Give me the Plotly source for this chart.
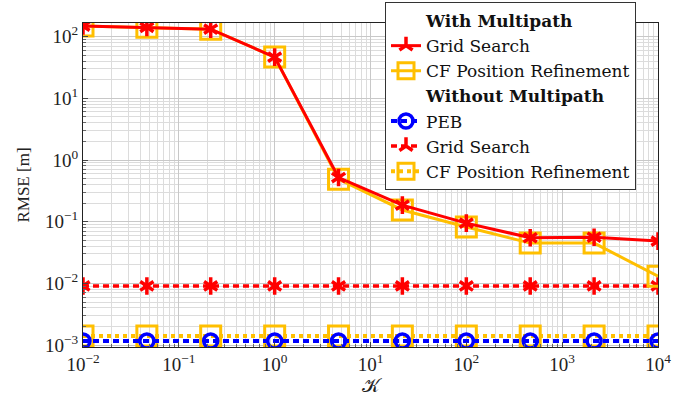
import plotly.graph_objects as go

kappa = [0.01, 0.0464, 0.215, 1.0, 4.64, 21.5, 100.0, 464.0, 2154.0, 10000.0]
gs_mp = [148, 141, 132, 46.5, 0.52, 0.186, 0.095, 0.055, 0.056, 0.0485]
cf_mp = [148, 141, 132, 46.5, 0.49, 0.155, 0.082, 0.045, 0.045, 0.0131]
peb = [0.00117] * 10
gs_nomp = [0.0091] * 10
cf_nomp = [0.00141] * 10

xticks = [0.01, 0.1, 1, 10, 100, 1000, 10000]
xticktext = ["10<sup>−2</sup>", "10<sup>−1</sup>", "10<sup>0</sup>", "10<sup>1</sup>",
             "10<sup>2</sup>", "10<sup>3</sup>", "10<sup>4</sup>"]
yticks = [0.001, 0.01, 0.1, 1, 10, 100]
yticktext = ["10<sup>−3</sup>", "10<sup>−2</sup>", "10<sup>−1</sup>", "10<sup>0</sup>",
             "10<sup>1</sup>", "10<sup>2</sup>"]

RED = "#ff0000"
ORANGE = "#ffbf00"
BLUE = "#0000ff"
FONT = "Liberation Serif"
LEGFONT = "DejaVu Serif"

fig = go.Figure()

# header entries
fig.add_trace(go.Scatter(x=[None], y=[None], mode="lines", line=dict(width=0, color="rgba(0,0,0,0)"),
                         name="<b>With Multipath</b>", legendrank=1, hoverinfo="skip"))
fig.add_trace(go.Scatter(x=[None], y=[None], mode="lines", line=dict(width=0, color="rgba(0,0,0,0)"),
                         name="<b>Without Multipath</b>", legendrank=4, hoverinfo="skip"))


def asterisk_pair(y, name, rank, line):
    fig.add_trace(go.Scatter(x=kappa, y=y, mode="lines+markers", name=name, legendrank=rank, line=line,
                             marker=dict(symbol="y-up-open", size=11, color=RED,
                                         line=dict(width=3.5, color=RED))))
    fig.add_trace(go.Scatter(x=kappa, y=y, mode="markers", showlegend=False, hoverinfo="skip",
                             marker=dict(symbol="y-down-open", size=11, color=RED,
                                         line=dict(width=3.5, color=RED))))


# without multipath
fig.add_trace(go.Scatter(x=kappa, y=cf_nomp, mode="lines+markers", name="CF Position Refinement",
                         legendrank=7, line=dict(color=ORANGE, width=4, dash="4px,4px"),
                         marker=dict(symbol="square-open", size=20, color=ORANGE, line=dict(width=3, color=ORANGE))))
fig.add_trace(go.Scatter(x=kappa, y=peb, mode="lines+markers", name="PEB",
                         legendrank=5, line=dict(color=BLUE, width=4, dash="6px,4px"),
                         marker=dict(symbol="circle-open", size=14, color=BLUE, line=dict(width=3.5, color=BLUE))))
asterisk_pair(gs_nomp, "Grid Search", 6, dict(color=RED, width=3.5, dash="6px,4px"))

# with multipath
fig.add_trace(go.Scatter(x=kappa, y=cf_mp, mode="lines+markers", name="CF Position Refinement",
                         legendrank=3, line=dict(color=ORANGE, width=3),
                         marker=dict(symbol="square-open", size=20, color=ORANGE, line=dict(width=3, color=ORANGE))))
asterisk_pair(gs_mp, "Grid Search", 2, dict(color=RED, width=3))

axis_common = dict(
    type="log", showline=True, mirror=True, linecolor="#222", linewidth=1.2,
    ticks="inside", ticklen=5, tickcolor="#444", showgrid=True, gridcolor="#c8c8c8", gridwidth=1,
    zeroline=False, tickfont=dict(family=FONT, size=19, color="#222"),
    minor=dict(dtick="D1", showgrid=True, gridcolor="#dcdcdc", gridwidth=1, ticks="inside",
               ticklen=3, tickcolor="#666"),
)

fig.update_xaxes(**axis_common, range=[-2, 4], tickmode="array", tickvals=xticks, ticktext=xticktext,
                 title=dict(text="𝒦", font=dict(family=FONT, size=19, color="#222"), standoff=4))
fig.update_yaxes(**axis_common, range=[-3.03, 2.22], tickmode="array", tickvals=yticks, ticktext=yticktext,
                 title=dict(text="RMSE [m]", font=dict(family=FONT, size=17, color="#222"), standoff=10))

fig.update_layout(
    width=697, height=403,
    margin=dict(l=83, r=39, t=23, b=56, autoexpand=False),
    plot_bgcolor="white", paper_bgcolor="white",
    font=dict(family=FONT, size=19, color="#111"),
    showlegend=True,
    legend=dict(xref="container", yref="container", x=636 / 697, xanchor="right",
                y=1 - 2 / 403, yanchor="top", maxheight=1,
                bgcolor="white", bordercolor="#333", borderwidth=1,
                font=dict(family=LEGFONT, size=17, color="#111"),
                tracegroupgap=0, itemwidth=30),
)

fig.write_html("out.html", config={"displayModeBar": False},
               post_script="document.body.style.margin='0';document.body.style.padding='0';")
